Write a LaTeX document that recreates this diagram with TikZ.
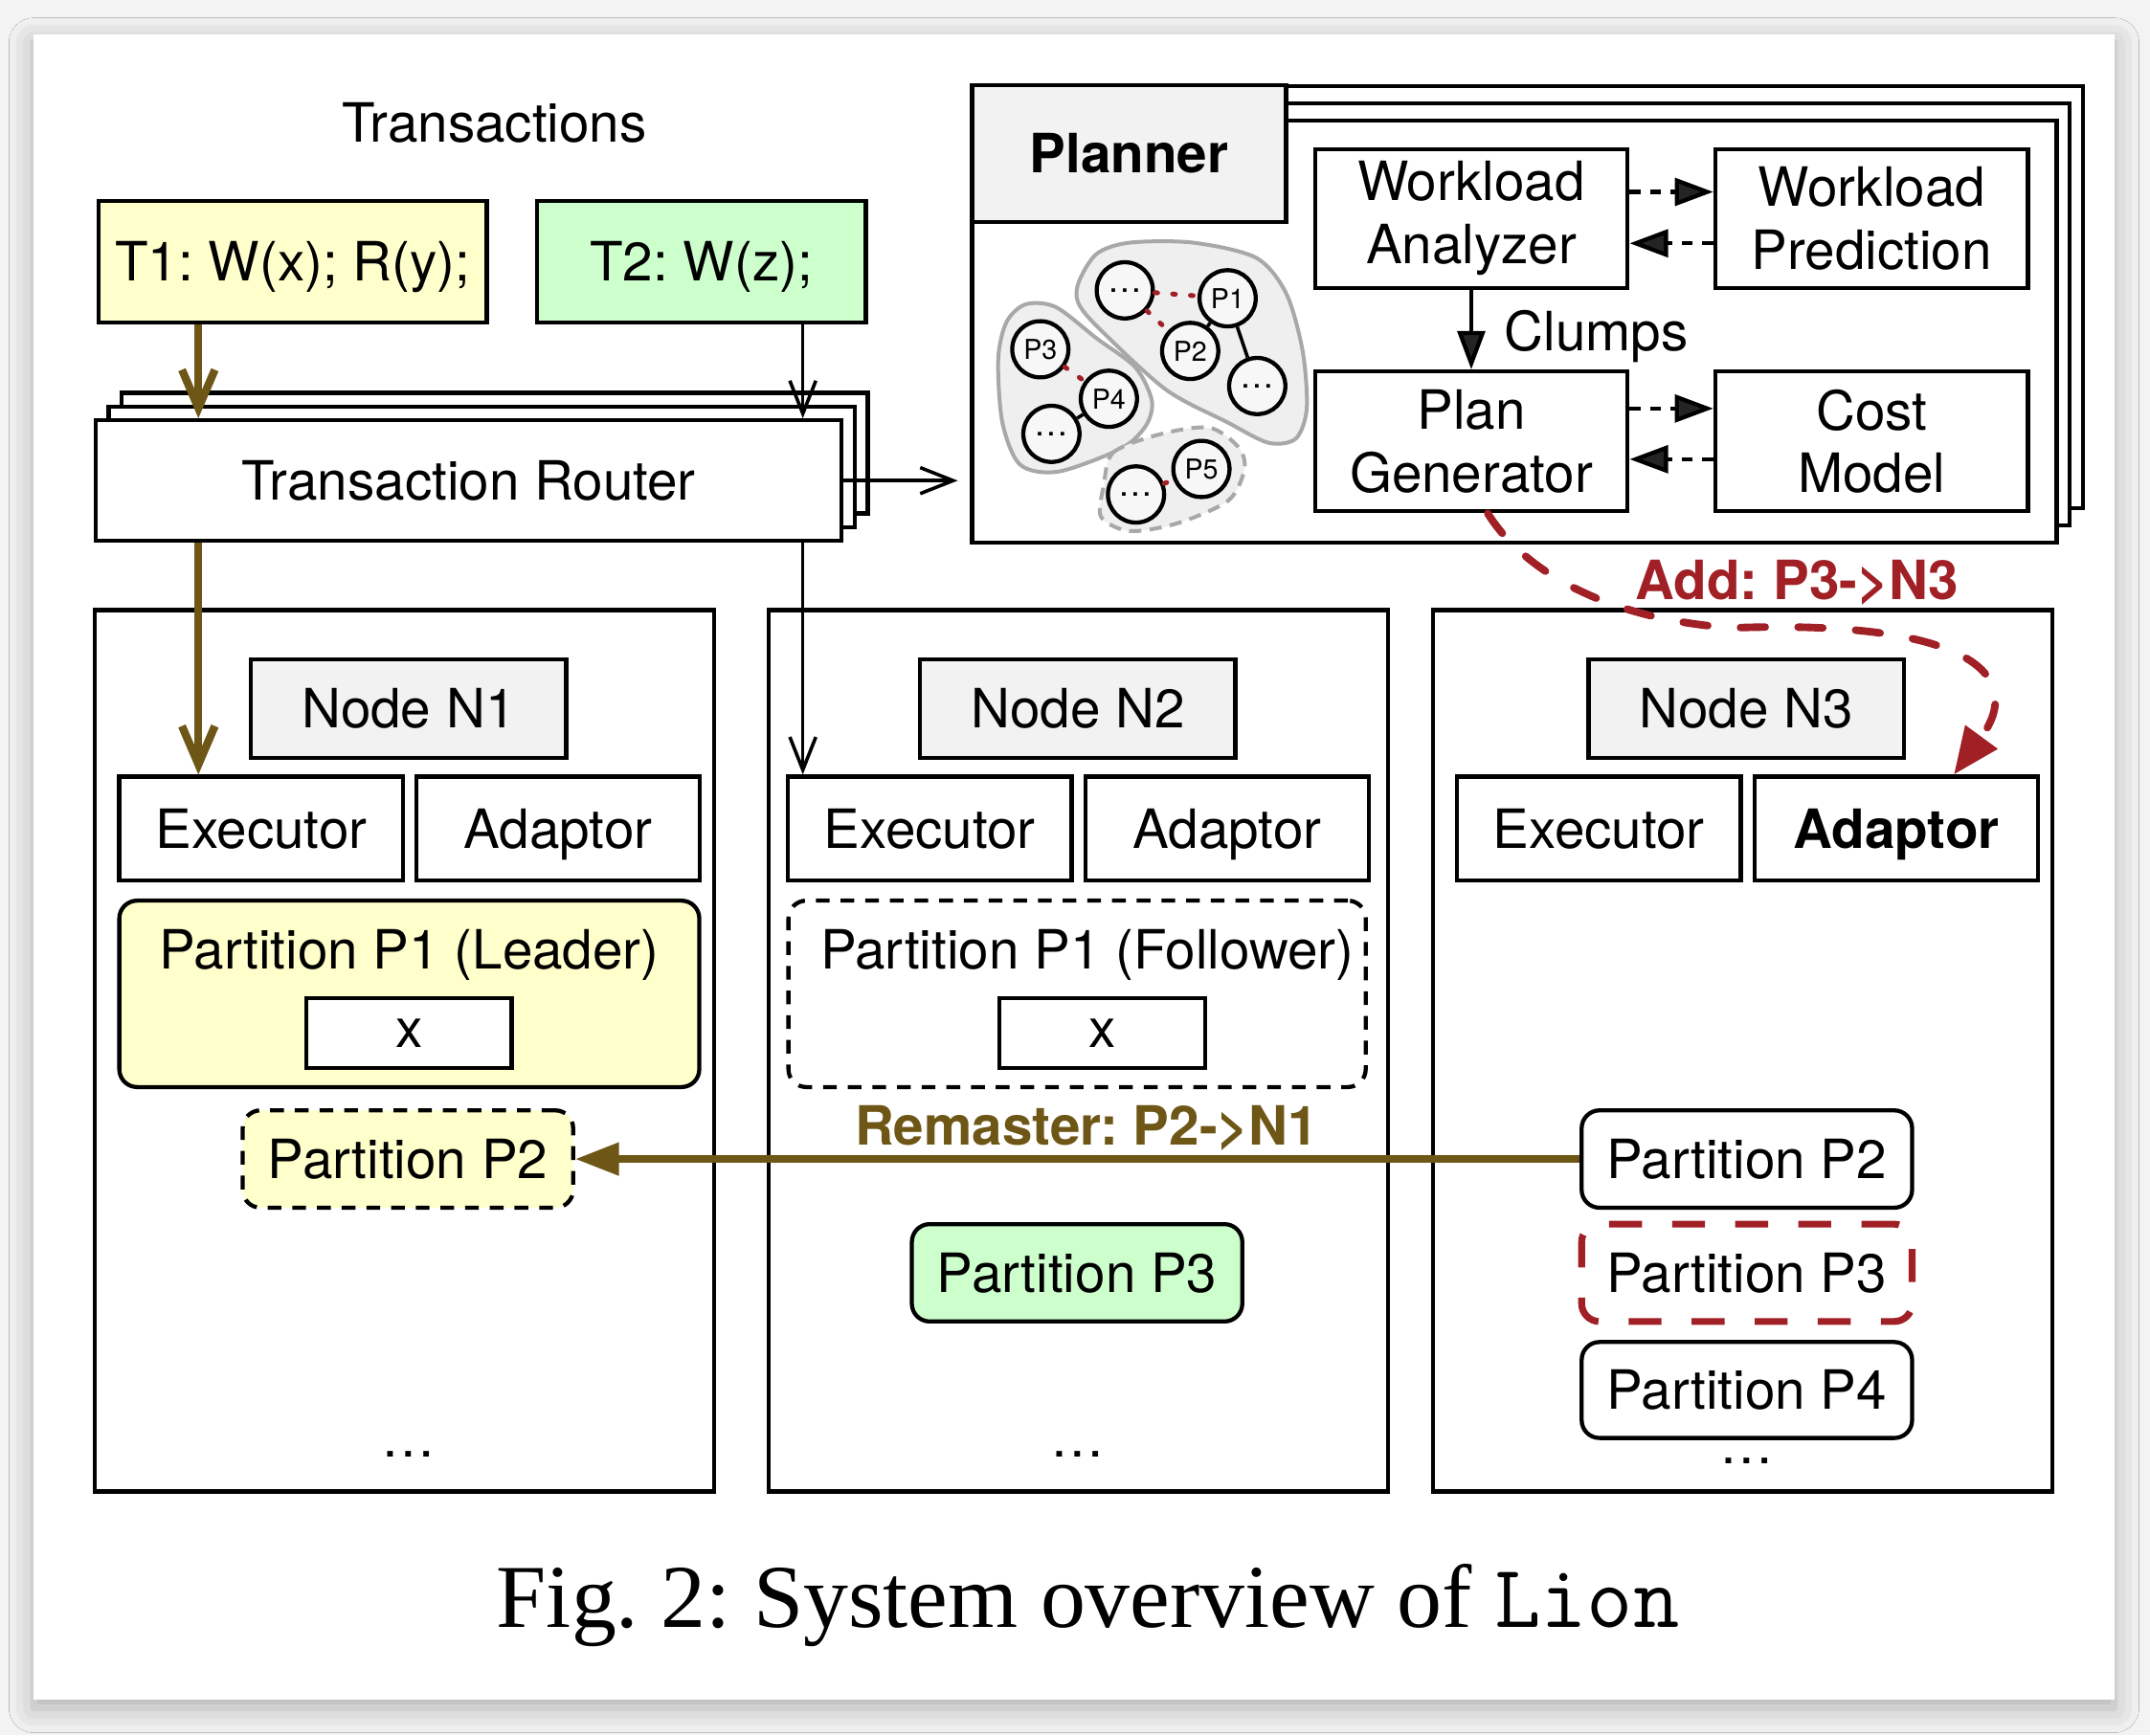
\documentclass[tikz,border=0pt]{standalone}
\usepackage{fontspec}
\setmainfont{TeX Gyre Heros}
\newfontfamily\capserif{Liberation Serif}
\usetikzlibrary{arrows.meta,calc,shadows.blur}
\frenchspacing

\definecolor{leadyellow}{RGB}{255,255,204}
\definecolor{txgreen}{RGB}{204,255,204}
\definecolor{hdrgray}{RGB}{242,242,242}
\definecolor{remolive}{RGB}{110,87,22}
\definecolor{addred}{RGB}{160,32,38}
\definecolor{clumpfill}{RGB}{239,239,239}
\definecolor{clumpline}{RGB}{168,168,168}
\definecolor{pagebg}{RGB}{243,243,243}

\begin{document}
\begin{tikzpicture}[
		x=1pt, y=-1pt,
		font=\fontsize{39.5}{46}\selectfont,
		box/.style={
			draw,
			line width=3pt,
			fill=white,
			inner sep=0pt,
			align=center,
		},
		capc/.style={
			text height=28.4pt,
			text depth=0pt,
		},
		routerbox/.style={
			box, capc,
			minimum width=544pt,
			minimum height=88pt,
		},
		planbox/.style={
			box,
			minimum width=791pt,
			minimum height=308pt,
		},
		stage/.style={
			box,
			minimum width=228pt,
			minimum height=101pt,
		},
		panel/.style={
			box,
			minimum width=452pt,
			minimum height=643pt,
		},
		hdr/.style={
			box, capc,
			fill=hdrgray,
			minimum width=230pt,
			minimum height=72pt,
		},
		unit/.style={
			box, capc,
			minimum width=207pt,
			minimum height=76pt,
		},
		part/.style={
			box, capc,
			rounded corners=13pt,
			minimum width=241pt,
			minimum height=71pt,
		},
		xbox/.style={
			box,
			minimum width=150pt,
			minimum height=51pt,
		},
		dashbox/.style={
			dash pattern=on 10pt off 8pt,
		},
		pnode/.style={
			draw,
			circle,
			line width=3pt,
			fill=white!97!black,
			minimum size=41pt,
			inner sep=0pt,
			font=\fontsize{20}{20}\selectfont,
		},
		blob/.style={
			fill=clumpfill,
			draw=clumpline,
			line width=2.8pt,
		},
		solidlink/.style={
			line width=2.5pt,
		},
		dotlink/.style={
			addred,
			line width=3.5pt,
			line cap=round,
			dash pattern=on 2pt off 11pt,
		},
		route/.style={
			remolive,
			line width=5.8pt,
			-{Straight Barb[length=28pt,width=24pt]},
		},
		thinroute/.style={
			line width=2.5pt,
			-{Straight Barb[length=24pt,width=19pt]},
		},
		dlink/.style={
			line width=3pt,
			dash pattern=on 8pt off 7pt,
			-{Triangle[length=28pt,width=20pt]},
		},
		vlink/.style={
			line width=3pt,
			-{Triangle[length=28pt,width=20pt]},
		},
		remaster/.style={
			remolive,
			line width=5.5pt,
			-{Triangle[length=32pt,width=23pt]},
		},
		addarrow/.style={
			addred,
			line width=5.5pt,
			line cap=round,
			dash pattern=on 18pt off 24pt,
			-{Triangle[length=34pt,width=28pt]},
		},
	]

	\useasboundingbox (0,0) rectangle (1568,1266);
	\fill [pagebg] (0,0) rectangle (1568,1266);
	\fill [white, blur shadow={shadow xshift=0pt, shadow yshift=-6pt,
		shadow blur radius=18pt, shadow opacity=28}] (24.5,25) rectangle (1542,1240);

	% transactions and router
	\node [anchor=base] (txlabel) at (360.5,104) {Transactions};
	\node [box, capc, fill=leadyellow, minimum width=283pt, minimum height=89pt] (T1) at (213.5,191) {T1: W(x); R(y);};
	\node [box, capc, fill=txgreen, minimum width=240pt, minimum height=89pt] (T2) at (511.5,191) {T2: W(z);};

	\node [routerbox] (router-b) at (360.75,330.6) {};
	\node [routerbox] (router-m) at (351.25,340.6) {};
	\node [routerbox] (router) at (341.75,350.6) {Transaction Router};

	% the three nodes
	\node [panel] (N1) at (295,766.5) {};
	\node [panel] (N2) at (786.5,766.5) {};
	\node [panel] (N3) at (1271,766.5) {};

	\node [hdr] (hdr1) at (298,517) {Node N1};
	\node [hdr] (hdr2) at (786,517) {Node N2};
	\node [hdr] (hdr3) at (1273.5,517) {Node N3};

	\node [unit] (exec1) at (190.5,604.5) {Executor};
	\node [unit] (adapt1) at (407,604.5) {Adaptor};
	\node [unit] (exec2) at (678,604.5) {Executor};
	\node [unit] (adapt2) at (895,604.5) {Adaptor};
	\node [unit] (exec3) at (1166,604.5) {Executor};
	\node [unit] (adapt3) at (1383,604.5) {\bfseries Adaptor};

	\node [part, fill=leadyellow, minimum width=423pt, minimum height=136pt] (leader) at (298.5,725) {};
	\node [anchor=base] (leadtxt) at (298.5,707) {Partition P1 (Leader)};
	\node [xbox] (x1) at (298.2,753.5) {x};

	\node [part, dashbox, minimum width=421pt, minimum height=136pt] (follower) at (785.5,725) {};
	\node [anchor=base] (followtxt) at (793,707) {Partition P1 (Follower)};
	\node [xbox] (x2) at (803.7,753.5) {x};

	\node [part, dashbox, fill=leadyellow] (p2n1) at (297.5,845.5) {Partition P2};
	\node [part, fill=txgreen] (p3n2) at (785.5,928.5) {Partition P3};
	\node [part] (p2n3) at (1274,845.5) {Partition P2};
	\node [part, draw=addred, line width=5pt, dash pattern=on 24pt off 22pt] (p3n3) at (1274,928.5) {Partition P3};
	\node [part, minimum height=70pt] (p4n3) at (1274,1014) {Partition P4};

	\node [anchor=base] (more1) at (298,1063) {\dots};
	\node [anchor=base] (more2) at (786,1063) {\dots};
	\node [anchor=base] (more3) at (1274,1068) {\dots};

	% routing
	\coordinate (lane1) at (144.7,0);
	\coordinate (lane2) at (585.5,0);
	\draw [route] (T1.south -| lane1) -- (router.north -| lane1);
	\draw [route] (router.south -| lane1) -- (exec1.north -| lane1);
	\draw [thinroute] (T2.south -| lane2) -- (router.north -| lane2);
	\draw [thinroute] (router.south -| lane2) -- (exec2.north -| lane2);

	% planner
	\node [planbox] (planner-b) at (1123.5,216.75) {};
	\node [planbox] (planner-m) at (1114,229.25) {};
	\node [planbox] (planner) at (1104.5,241.75) {};
	\node [box, capc, fill=hdrgray, minimum width=229pt, minimum height=100pt] (plantab) at (823.5,112) {\bfseries Planner};

	\draw [thinroute, shorten >=9pt] (router.east) -- (router.east -| planner.west);

	\node [stage] (analyzer) at (1073,159.5) {Workload\\Analyzer};
	\node [stage] (predict) at (1365,159.5) {Workload\\Prediction};
	\node [stage, minimum height=102pt] (plangen) at (1073,322) {Plan\\Generator};
	\node [stage, minimum height=102pt] (costmodel) at (1365,322) {Cost\\Model};

	\draw [dlink] ([yshift=19.5pt]analyzer.east) -- ([yshift=19.5pt]predict.west);
	\draw [dlink] ([yshift=-18pt]predict.west) -- ([yshift=-18pt]analyzer.east);
	\draw [dlink] ([yshift=24pt]plangen.east) -- ([yshift=24pt]costmodel.west);
	\draw [dlink] ([yshift=-13pt]costmodel.west) -- ([yshift=-13pt]plangen.east);
	\draw [vlink] (analyzer) -- (plangen);
	\node [anchor=base west, inner sep=0pt] (clumps) at (1097,256) {Clumps};

	% clumps of partitions
	\draw [blob] plot [smooth cycle] coordinates {(787,205) (800,185) (824,177) (870,177)
		(916,188) (938,214) (950,256) (953,298) (945,320) (925,323) (895,308) (850,284)
		(800,238) (786,220)};
	\draw [blob] plot [smooth cycle] coordinates {(728,262) (734,235) (748,222) (770,224)
		(800,247) (828,268) (840,292) (836,310) (818,327) (772,344) (744,339) (731,308)};
	\draw [blob, dash pattern=on 9pt off 6pt] plot [smooth cycle] coordinates {(805,354)
		(812,330) (847,316.5) (882,312) (903,326) (907.6,342) (896,365) (859,381.6)
		(824,387.4) (803,377)};

	\node [pnode, font=\fontsize{25}{25}\selectfont] (c1) at (820.3,211.8) {\dots};
	\node [pnode] (cp1) at (895.3,217.6) {P1};
	\node [pnode] (cp2) at (868,256) {P2};
	\node [pnode, font=\fontsize{25}{25}\selectfont] (c2) at (916.9,281.6) {\dots};
	\node [pnode] (cp3) at (758.7,254.8) {P3};
	\node [pnode] (cp4) at (808.7,290.9) {P4};
	\node [pnode, font=\fontsize{25}{25}\selectfont] (c3) at (766.8,316.5) {\dots};
	\node [pnode] (cp5) at (876.2,342.1) {P5};
	\node [pnode, font=\fontsize{25}{25}\selectfont] (c4) at (828.5,360.7) {\dots};

	\draw [solidlink] (cp1) -- (cp2);
	\draw [solidlink] (cp1) -- (c2);
	\draw [solidlink] (cp4) -- (c3);
	\draw [dotlink] (c1) -- (cp1);
	\draw [dotlink] (c1) -- (cp2);
	\draw [dotlink] (cp3) -- (cp4);
	\draw [dotlink] (c4) -- (cp5);

	% moves
	\draw [remaster] (p2n3.west) -- (p2n1.east);
	\node [anchor=base, text=remolive] (remlabel) at (792.5,835) {\bfseries Remaster: P2->N1};

	\draw [addarrow] ($(plangen.south)+(12,0)$) .. controls (1110,415) and (1170,452) .. (1264,458)
		.. controls (1430,452) and (1480,490) .. ($(adapt3.north)+(42,0)$);
	\node [anchor=base, text=addred] (addlabel) at (1310.5,437.5) {\bfseries Add: P3->N3};

	\node [anchor=base, font=\fontsize{65.5}{70}\selectfont] (caption) at (793.5,1187)
		{\capserif Fig. 2: System overview of \ttfamily Lion};
\end{tikzpicture}
\end{document}
